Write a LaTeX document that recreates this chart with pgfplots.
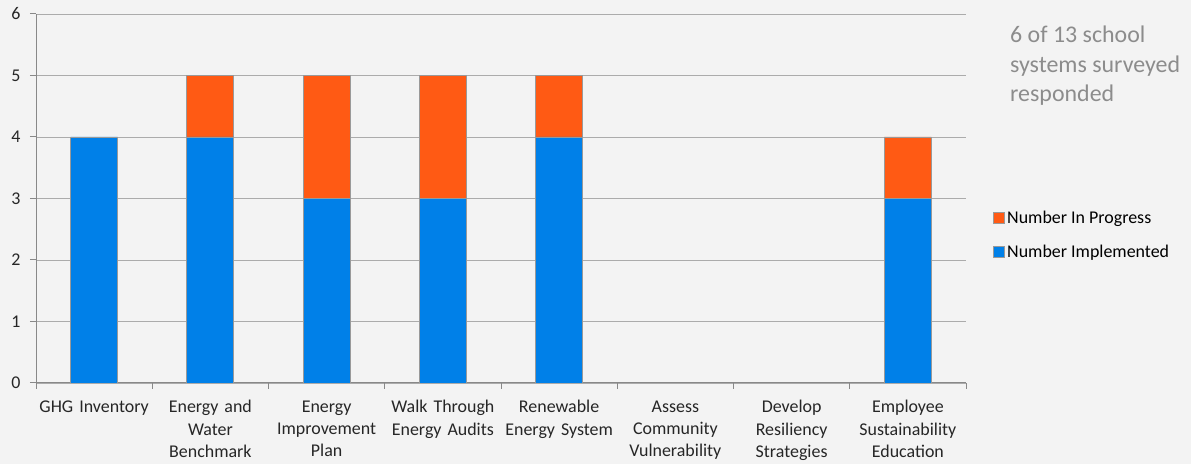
\documentclass[border=0pt]{standalone}
\usepackage{pgfplots}
\pgfplotsset{compat=1.18}
\usepackage{fontspec}
\setmainfont{Carlito}
\definecolor{bgc}{HTML}{F3F3F3}
\definecolor{implc}{HTML}{0080E8}
\definecolor{progc}{HTML}{FF5A14}
\definecolor{gridc}{HTML}{ABABAB}
\definecolor{axc}{HTML}{888888}
\definecolor{notec}{HTML}{8C8C8C}
\begin{document}
\begin{tikzpicture}[x=1bp,y=1bp]
% page background and bounding box (1191 x 464 px, axis box at 36..966, 14..383)
\fill[bgc] (-36,-81) rectangle (1155,383);
\useasboundingbox (-36,-81) rectangle (1155,383);
\begin{axis}[
    at={(0,0)}, anchor=south west,
    scale only axis,
    width=930bp, height=369bp,
    ybar stacked,
    bar width=0.404,
    xmin=-0.5, xmax=7.5,
    ymin=0, ymax=6,
    ytick={0,1,...,6},
    xtick={0,...,7},
    xticklabels={GHG Inventory, Energy and\\Water\\Benchmark, Energy\\Improvement\\Plan, Walk Through\\Energy Audits, Renewable\\Energy System, Assess\\Community\\Vulnerability, Develop\\Resiliency\\Strategies, Employee\\Sustainability\\Education},
    minor xtick={-0.5,0.5,...,7.5},
    major x tick style={draw=none},
    minor tick length=6bp,
    major tick length=6bp,
    tick align=outside,
    tick style={axc, line width=1pt},
    axis x line*=bottom,
    axis y line*=left,
    axis line style={axc, line width=1pt, -},
    ymajorgrids,
    grid style={gridc, line width=0.8pt},
    /pgf/number format/assume math mode=true,
    ticklabel style={font=\fontsize{18}{22.5}\selectfont, text=black!85},
    xticklabel style={align=center, text width=125bp, yshift=-8bp},
    yticklabel style={xshift=-6bp},
    legend style={at={(rel axis cs:1.026,0.40)}, anchor=west, draw=none, fill=none,
        font=\fontsize{18}{22}\selectfont, row sep=16bp,
        /tikz/every even column/.append style={column sep=2bp}},
    legend cell align=left,
    reverse legend,
    legend image code/.code={\fill[#1] (0bp,-5bp) rectangle (11bp,6bp);},
]
\addplot[fill=implc, draw=gray!80, line width=0.8pt] coordinates {
(0,4) (1,4) (2,3) (3,3) (4,4) (5,0) (6,0) (7,3)
};
\addlegendentry{Number Implemented}
\addplot[fill=progc, draw=gray!80, line width=0.8pt] coordinates {
(0,0) (1,1) (2,2) (3,2) (4,1) (5,0) (6,0) (7,1)
};
\addlegendentry{Number In Progress}
\end{axis}
\node[anchor=north west, align=left, text=notec, font=\fontsize{24}{29.5}\selectfont, inner sep=0pt]
    at (974,357) {6 of 13 school\\systems surveyed\\responded};
\end{tikzpicture}
\end{document}
